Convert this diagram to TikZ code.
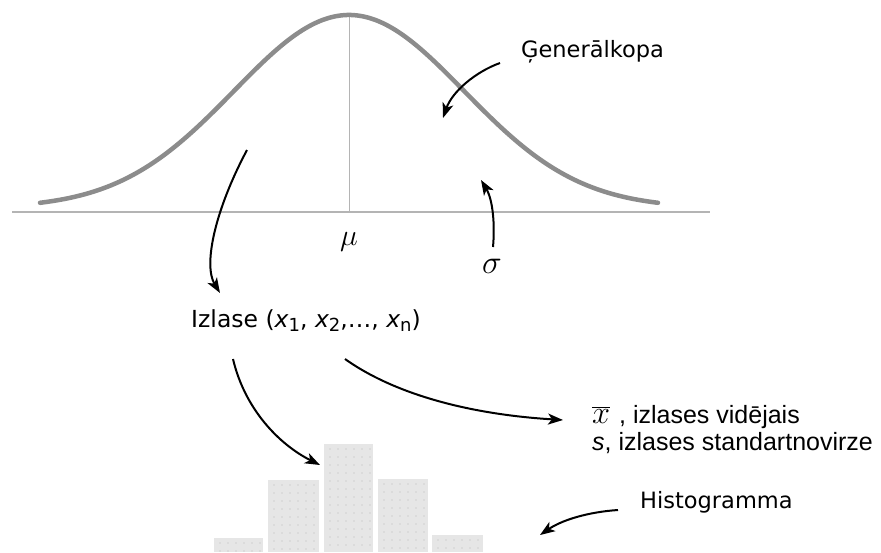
\documentclass[tikz,border=0pt]{standalone}
\usepackage{fontspec}
\usepackage{graphicx}
\setmainfont{DejaVu Sans}
\newfontfamily\arialf{Liberation Sans}
\usetikzlibrary{arrows.meta}
\definecolor{curvegray}{HTML}{8C8C8C}
\definecolor{axisgray}{HTML}{B4B4B4}
\definecolor{barfill}{HTML}{E6E6E6}
\definecolor{dotgray}{HTML}{B8B8B8}
\begin{document}
\begin{tikzpicture}[x=1pt,y=-1pt,
  conn/.style={line width=2pt,-{Stealth[length=15pt,width=11pt,inset=4pt]}},
  vlbl/.style={font=\fontsize{22.5}{26}\selectfont,inner sep=0pt,anchor=base west},
  albl/.style={font=\arialf\fontsize{25}{28}\selectfont,inner sep=0pt,anchor=base west},
  greek/.style={font=\fontsize{20}{22}\selectfont,inner sep=0pt},
  histbar/.style={fill=barfill,draw=none}]
\useasboundingbox (0,0) rectangle (881,552);
\fill[white] (0,0) rectangle (881,552);
% axis and mean line
\draw[axisgray,line width=2pt] (12,212) -- (710,212);
\draw[axisgray,line width=1pt] (349,15) -- (349,212);
% bell curve
\draw[curvegray,line width=4.5pt,line cap=round] plot[domain=40:658,samples=140,smooth] (\x,{208-193*exp(-0.5*((\x-349)/115)^2)});
% histogram
\foreach \xa/\xb/\yt in {214/263/538,268/319/480,324/373/444,378/428/479,432/483/535}{
  \fill[histbar] (\xa,\yt) rectangle (\xb,552);
  \foreach \dx in {6,14,...,48}{
    \foreach \dy in {5,13,...,120}{
      \pgfmathsetmacro{\py}{\yt+\dy}
      \ifdim \py pt<552pt
        \fill[dotgray] (\xa+\dx,\py) circle (0.6pt);
      \fi
    }
  }
}
% labels
\node[vlbl] (gen) at (521,57) {Ģenerālkopa};
\node[greek,scale=1.45] (mu) at (349,242) {$\mu$};
\node[greek,scale=1.6] (sigma) at (492,266) {$\sigma$};
\node[vlbl,font=\fontsize{23.5}{26}\selectfont] (izl) at (191,327) {Izlase ({\itshape x}{\fontsize{18}{18}\selectfont\raisebox{-4pt}{1}}, {\itshape x}{\fontsize{18}{18}\selectfont\raisebox{-4pt}{2}},\dots, {\itshape x}{\fontsize{18}{18}\selectfont\raisebox{-4pt}{n}})};
\node[albl] (xbar) at (592,423) {\scalebox{1.3}{$\overline{x}$}\hspace{9pt}, izlases vidējais};
\node[albl] (sdev) at (592,450) {{\itshape s}, izlases standartnovirze};
\node[vlbl] (hist) at (640,508) {Histogramma};
% connector end points
\coordinate (g1) at (500,63);
\coordinate (g2) at (443,118);
\coordinate (s1) at (493,247);
\coordinate (s2) at (481,180);
\coordinate (p1) at (247,150);
\coordinate (p2) at (220,293);
\coordinate (i1) at (233,359);
\coordinate (h1) at (320,465);
\coordinate (i2) at (345,359);
\coordinate (x1) at (563,420);
\coordinate (hl1) at (618,510);
\coordinate (hl2) at (540,535);
% connectors
\draw[conn] (g1) .. controls (475,72) and (452,92) .. (g2);
\draw[conn] (s1) .. controls (495,225) and (493,200) .. (s2);
\draw[conn] (p1) .. controls (215,210) and (203,265) .. (p2);
\draw[conn] (i1) .. controls (245,410) and (280,445) .. (h1);
\draw[conn] (i2) .. controls (400,398) and (480,415) .. (x1);
\draw[conn] (hl1) .. controls (588,512) and (562,520) .. (hl2);
\end{tikzpicture}
\end{document}
